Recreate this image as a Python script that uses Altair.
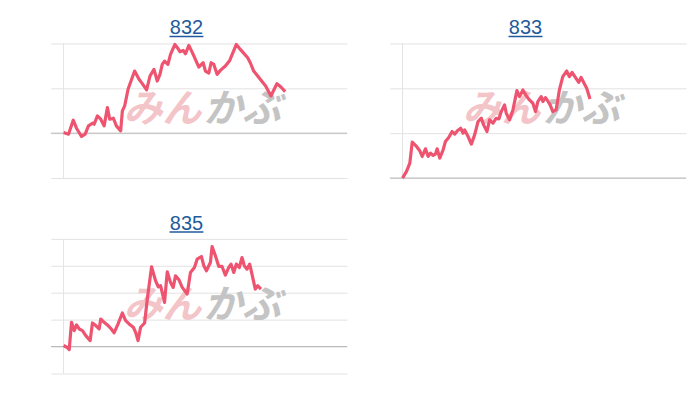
import altair as alt
import pandas as pd

# ---- data (x: days from start, y: % change) ----
titles = ["832", "833", "835"]

t832 = [0, 5, 9.7, 13, 18, 21.7, 25, 29, 30.7, 34, 37.3, 40.7, 44, 46.3, 50, 53, 57.3, 59, 61.3, 64.7,
        71.3, 75.7, 79, 83.3, 86.7, 90.7, 94, 96.7, 99, 101.3, 104.7, 107.3, 111.7, 114.7, 116.7, 120,
        122.3, 125.7, 130, 135.7, 140, 142.3, 145.7, 148, 150.7, 154, 157.3, 162.3, 166.7, 173.3, 177.3,
        184.7, 187.3, 190.7, 197.3, 202.7, 208, 214, 218, 222.3]
v832 = [0.15, -0.22, 2.89, 1.11, -0.74, -0.22, 1.63, 2.22, 2.0, 3.85, 3.11, 1.63, 5.7, 3.11, 3.33, 1.63,
        0.52, 4.96, 6.07, 9.78, 13.85, 12.0, 11.04, 9.63, 12.74, 14.22, 11.63, 13.11, 15.33, 16.07, 15.33,
        17.56, 19.78, 18.89, 18.15, 18.44, 17.7, 19.56, 17.56, 14.74, 15.7, 13.85, 13.41, 15.7, 15.33,
        13.11, 14.0, 14.96, 16.22, 19.78, 18.67, 16.81, 15.7, 13.85, 12.0, 10.52, 8.3, 11.04, 10.3, 9.26]

t833 = [0, 4, 7.3, 9.7, 14, 17.3, 19.7, 23, 25.7, 28, 30.7, 33, 34.7, 37.3, 40.7, 43, 46.3, 49.7, 52.3,
        55, 58.3, 60.7, 62.3, 65.7, 69, 72.3, 75.7, 79, 81.3, 84.7, 87.3, 90.7, 94, 96.7, 99, 102.3, 104,
        107.3, 110.7, 114.7, 117.3, 120.7, 124, 127.3, 130.7, 133.3, 135.7, 139, 140.7, 143.3, 145.7, 148,
        150.7, 154, 157.3, 160.7, 164.7, 167.3, 170, 174, 176.7, 179, 181.3, 184.7, 188]
v833 = [0, 1.48, 3.33, 8.0, 7.04, 6.07, 4.81, 6.52, 4.81, 5.56, 5.04, 5.33, 6.52, 4.44, 6.3, 8.15, 9.04,
        10.37, 9.78, 10.52, 11.11, 10.0, 10.74, 9.26, 7.56, 9.63, 12.59, 13.33, 11.85, 10.37, 12.96, 12.22,
        13.33, 13.19, 14.81, 16.3, 14.44, 12.96, 15.19, 19.48, 18.15, 19.63, 18.37, 17.41, 16.67, 14.81,
        17.04, 18.15, 17.04, 17.93, 17.19, 16.3, 14.81, 15.19, 19.63, 22.59, 23.85, 22.59, 23.56, 22.22,
        21.33, 22.44, 21.48, 20.0, 17.63]

t835 = [0, 3.3, 5.7, 8, 10.7, 13, 15.7, 19, 22.3, 26.7, 29, 32.3, 35.7, 37.3, 40.7, 44, 47.3, 50.7, 54.7,
        59, 62.3, 65.7, 70, 72.3, 74.7, 77.3, 81.3, 84, 88.3, 92.3, 95, 97.3, 101.3, 104, 107.3, 110, 112.3,
        115.7, 119, 124, 127.3, 131.3, 134, 138.3, 140.7, 143.3, 147.3, 149, 152.3, 155.7, 159, 162.3,
        165.7, 168, 170.7, 173.3, 176.3, 179, 181.3, 184, 186.7, 189, 192.3, 194.7, 198]
v835 = [0.19, -0.12, -0.56, 4.51, 2.96, 4.01, 3.27, 2.96, 2.04, 1.11, 4.38, 3.89, 3.27, 5.12, 4.51, 4.01,
        3.4, 2.53, 4.2, 6.23, 4.81, 4.2, 3.58, 2.65, 1.11, 3.58, 4.38, 8.83, 14.81, 12.22, 11.11, 11.3,
        8.21, 13.89, 11.91, 10.99, 13.15, 12.41, 10.99, 9.75, 13.77, 14.69, 16.23, 16.73, 15.0, 14.07,
        15.62, 18.58, 16.85, 14.88, 14.88, 13.27, 14.69, 15.31, 13.77, 15.31, 14.69, 16.54, 15.0, 14.38,
        15.31, 13.46, 10.68, 11.3, 10.68]

y_domains = [[-10, 20], [0, 30], [-5, 20]]
y_ticks = [[-10, 0, 10, 20], [0, 10, 20, 30], [-5, 0, 5, 10, 15, 20]]
x_domain = [-12.7, 284.3]

LINE = "#ee5470"
LINK = "#1f5b9c"
W, H = 297, 135


def panel(title, t, v, ydom, yticks):
    df = pd.DataFrame({"t": t, "v": v})
    xs = alt.Scale(domain=x_domain, nice=False, zero=False)
    ys = alt.Scale(domain=ydom, nice=False, zero=False)
    yaxis = alt.Axis(values=yticks, labels=False, ticks=False, domain=False, grid=True,
                     gridColor="#e2e2e2", gridWidth=1, title=None)

    vline = alt.Chart(pd.DataFrame({"t": [0]})).mark_rule(color="#e4e4e4", strokeWidth=1).encode(
        x=alt.X("t:Q", scale=xs, axis=None))
    base = alt.Chart(pd.DataFrame({"v": [0]})).mark_rule(color="#b8b8b8", strokeWidth=1).encode(
        y=alt.Y("v:Q", scale=ys, axis=yaxis))
    wm1 = alt.Chart(pd.DataFrame({"w": ["みん"]})).mark_text(
        font="Noto Sans CJK JP", fontSize=39, fontWeight="bold", fontStyle="italic",
        color="#f3c4c8", align="right", baseline="middle").encode(
        x=alt.value(151), y=alt.value(67), text="w:N")
    wm2 = alt.Chart(pd.DataFrame({"w": ["かぶ"]})).mark_text(
        font="Noto Sans CJK JP", fontSize=39, fontWeight="bold", fontStyle="italic",
        color="#c4c4c4", align="left", baseline="middle").encode(
        x=alt.value(153), y=alt.value(67), text="w:N")
    line = alt.Chart(df).mark_line(color=LINE, strokeWidth=3.2, strokeJoin="round").encode(
        x=alt.X("t:Q", scale=xs, axis=None),
        y=alt.Y("v:Q", scale=ys, axis=yaxis))
    ttl = alt.Chart(pd.DataFrame({"s": [title]})).mark_text(
        font="Liberation Sans", fontSize=20, color=LINK, align="center", baseline="alphabetic").encode(
        x=alt.value(W / 2 - 12.5), y=alt.value(-9), text="s:N")
    uline = alt.Chart(pd.DataFrame({"u": [0]})).mark_rule(color=LINK, strokeWidth=1.5).encode(
        x=alt.value(W / 2 - 12.5 - 17), x2=alt.value(W / 2 - 12.5 + 17), y=alt.value(-7))

    return alt.layer(base, vline, wm1, wm2, line, ttl, uline).properties(width=W, height=H)


p1 = panel(titles[0], t832, v832, y_domains[0], y_ticks[0])
p2 = panel(titles[1], t833, v833, y_domains[1], y_ticks[1])
p3 = panel(titles[2], t835, v835, y_domains[2], y_ticks[2])

chart = alt.concat(
    p1, p2, p3,
    columns=2,
    spacing={"row": 61, "column": 43},
    bounds="flush",
).properties(
    padding={"left": 42, "top": 10, "right": 5, "bottom": 10},
).configure_view(stroke=None)

chart.save("out.html", embed_options={"renderer": "svg", "actions": False})
